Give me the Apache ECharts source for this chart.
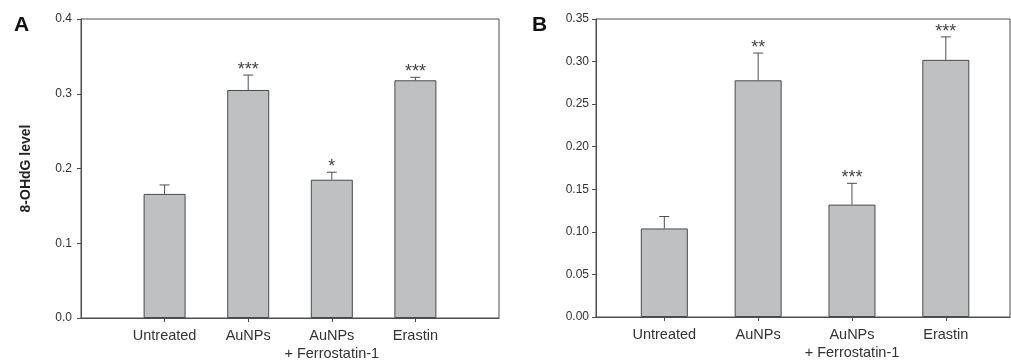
<!DOCTYPE html>
<html>
<head>
<meta charset="utf-8">
<script src="https://cdn.jsdelivr.net/npm/echarts@6/dist/echarts.min.js"></script>
<style>
  html, body { margin: 0; padding: 0; background: #fff; }
  #main { width: 1011px; height: 363px; }
</style>
</head>
<body>
<div id="main"></div>
<script>
const categories = ['Untreated', 'AuNPs', 'AuNPs\n+ Ferrostatin-1', 'Erastin'];

// panel A
const meanA = [0.166, 0.305, 0.185, 0.318];
const errTopA = [0.178, 0.325, 0.195, 0.322];
const starsA = ['', '***', '*', '***'];

// panel B
const meanB = [0.104, 0.278, 0.132, 0.302];
const errTopB = [0.118, 0.310, 0.157, 0.329];
const starsB = ['', '**', '***', '***'];

const axisColor = '#4d4d4d';
const textColor = '#333';
const font = 'Liberation Sans, Arial, sans-serif';

const chart = echarts.init(document.getElementById('main'));

const xAxisFor = (gridIndex, min, max) => ({
  type: 'value',
  gridIndex,
  min,
  max,
  splitLine: { show: false },
  axisLine: { lineStyle: { color: axisColor, width: 1 } },
  axisTick: { customValues: [1, 2, 3, 4], length: 4, lineStyle: { color: axisColor } },
  axisLabel: {
    customValues: [1, 2, 3, 4],
    formatter: v => categories[Math.round(v) - 1] || '',
    color: textColor,
    fontFamily: font,
    fontSize: 14.5,
    lineHeight: 18,
    margin: 9
  }
});

const yAxisFor = (gridIndex, max, interval, digits, name, margin) => ({
  type: 'value',
  gridIndex,
  min: 0,
  max,
  interval,
  name,
  nameLocation: 'middle',
  nameRotate: 90,
  nameGap: 48,
  nameTextStyle: { fontWeight: 'bold', fontSize: 14, color: '#222', fontFamily: font },
  splitLine: { show: false },
  axisLine: { show: true, lineStyle: { color: axisColor, width: 1 } },
  axisTick: { show: true, length: 4, lineStyle: { color: axisColor } },
  axisLabel: {
    formatter: v => v.toFixed(digits),
    color: textColor,
    fontFamily: font,
    fontSize: 12,
    margin
  }
});

const barSeries = (idx, mean, width) => ({
  type: 'bar',
  xAxisIndex: idx,
  yAxisIndex: idx,
  barWidth: width,
  data: mean.map((v, i) => [i + 1, v]),
  itemStyle: { color: '#bfc0c2', borderColor: '#4a4a4a', borderWidth: 1 },
  silent: true,
  z: 2
});

const errorSeries = (idx, mean, top, stars) => ({
  type: 'custom',
  xAxisIndex: idx,
  yAxisIndex: idx,
  data: mean.map((v, i) => [i + 1, v, top[i]]),
  renderItem: (params, api) => {
    const base = api.coord([api.value(0), api.value(1)]);
    const hi = api.coord([api.value(0), api.value(2)]);
    const star = stars[params.dataIndex];
    const style = { stroke: axisColor, lineWidth: 1 };
    const children = [
      { type: 'line', shape: { x1: hi[0], y1: base[1], x2: hi[0], y2: hi[1] }, style },
      { type: 'line', shape: { x1: hi[0] - 5, y1: hi[1], x2: hi[0] + 5, y2: hi[1] }, style }
    ];
    if (star) {
      children.push({
        type: 'text',
        style: {
          x: hi[0], y: hi[1] + 4,
          text: star,
          align: 'center',
          verticalAlign: 'bottom',
          fill: '#444',
          font: '18px ' + font
        }
      });
    }
    return { type: 'group', children };
  },
  z: 3
});

chart.setOption({
  animation: false,
  backgroundColor: '#fff',
  grid: [
    { left: 81, top: 19, width: 418, height: 301, show: true, borderColor: axisColor, borderWidth: 1, backgroundColor: '#fff' },
    { left: 596, top: 19, width: 414, height: 298, show: true, borderColor: axisColor, borderWidth: 1, backgroundColor: '#fff' }
  ],
  xAxis: [xAxisFor(0, 0, 5), xAxisFor(1, 0.272, 4.684)],
  yAxis: [
    yAxisFor(0, 0.4, 0.1, 1, '8-OHdG level', 9),
    yAxisFor(1, 0.35, 0.05, 2, '', 7)
  ],
  graphic: [
    { type: 'text', left: 14, top: 15, style: { text: 'A', font: 'bold 21px ' + font, fill: '#111' } },
    { type: 'text', left: 532, top: 15, style: { text: 'B', font: 'bold 21px ' + font, fill: '#111' } }
  ],
  series: [
    barSeries(0, meanA, 42),
    errorSeries(0, meanA, errTopA, starsA),
    barSeries(1, meanB, 47),
    errorSeries(1, meanB, errTopB, starsB)
  ]
});

window.onresize = () => {
  chart.resize();
};
</script>
</body>
</html>
